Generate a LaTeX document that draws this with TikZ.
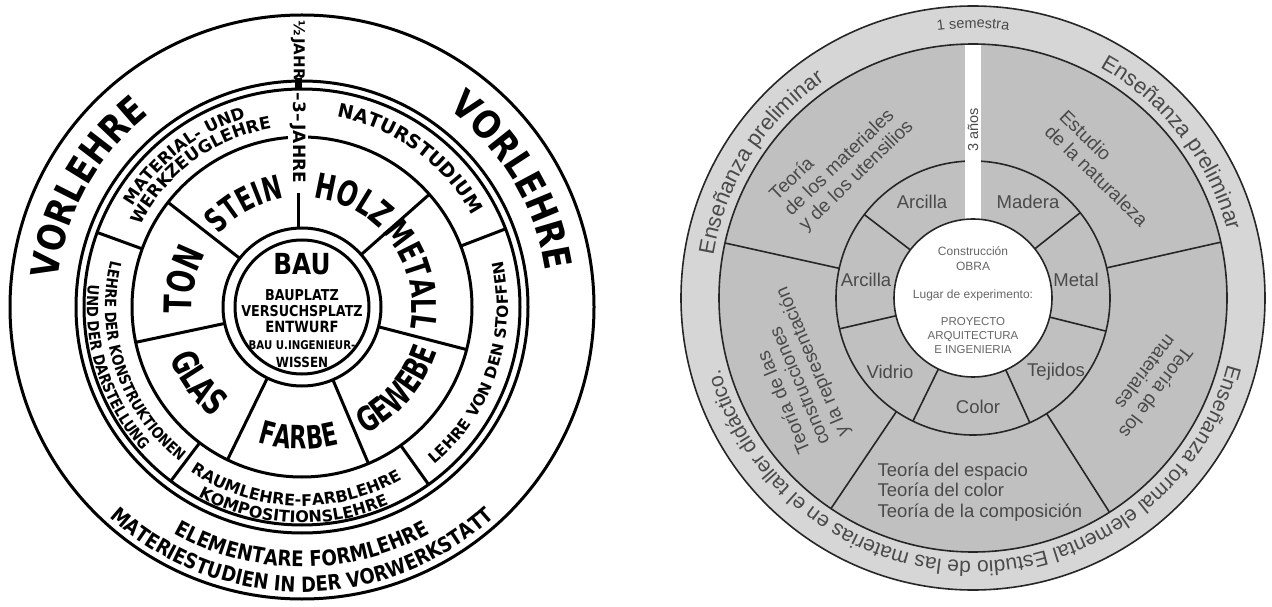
\documentclass[tikz,border=0pt]{standalone}
\usepackage{fontspec}
\setmainfont{Liberation Sans}
\newfontfamily\bhA{DejaVu Sans}[FakeStretch=0.7]
\newfontfamily\bhB{DejaVu Sans}[FakeStretch=0.85]
\newfontfamily\bhC{DejaVu Sans}
\usetikzlibrary{decorations.text}
\definecolor{band}{HTML}{D6D6D6}
\definecolor{ringc}{HTML}{C0C0C0}
\definecolor{txt}{HTML}{4A4A4A}
\newcommand\curvetext[6]{\path[decorate,decoration={text along path,text align=center,text={|#5|#6}}] ([shift={(#3:#2)}]#1) arc[start angle=#3,end angle=#4,radius=#2];}
\begin{document}
\begin{tikzpicture}[x=1pt,y=1pt,
  bline/.style={line width=3pt, black},
  rline/.style={line width=1.6pt, black!85},
  blab/.style={inner sep=0pt, text=black},
  slab/.style={inner sep=0pt, text=txt, align=left}]
\useasboundingbox (0,0) rectangle (1272,606);
\coordinate (L) at (302,299);
\coordinate (R) at (973,308);

% ================= LEFT =================
\draw[bline] (L) circle[radius=292];
\draw[bline] (L) circle[radius=226];
\draw[bline] (L) circle[radius=218];
\draw[bline] (L) circle[radius=170];
\draw[bline] (L) circle[radius=79];
\draw[bline] (L) circle[radius=67];
\foreach \a in {142,41.5,-14.5,-67,-116,192}
  \draw[bline] ([shift={(\a:79)}]L) -- ([shift={(\a:170)}]L);
\foreach \a in {21,-54.5,-127,160}
  \draw[bline] ([shift={(\a:170)}]L) -- ([shift={(\a:218)}]L);
\coordinate (vtop) at (298,413);
\coordinate (vbot) at (298,378);
\draw[bline] (vtop) -- (vbot);
\node[blab, rotate=-90, fill=white, inner sep=2pt, font=\bhC\bfseries\fontsize{17}{17}\selectfont] (three) at (298,468) {–3–\,JAHRE};
\node[blab, rotate=-90, font=\bhC\bfseries\fontsize{15}{15}\selectfont] (half) at (298,556) {½\,JAHR};
\fill[black] (294.5,516) rectangle (301.5,528);

\curvetext{L}{246}{181}{121}{\bhB\bfseries\fontsize{38}{38}\selectfont}{VORLEHRE}
\curvetext{L}{246}{61}{1}{\bhB\bfseries\fontsize{38}{38}\selectfont}{VORLEHRE}
\curvetext{L}{285}{-150}{-30}{\bhB\bfseries\fontsize{21}{21}\selectfont}{MATERIESTUDIEN IN DER VORWERKSTATT}
\curvetext{L}{260}{-140}{-40}{\bhB\bfseries\fontsize{21.5}{21.5}\selectfont}{ELEMENTARE FORMLEHRE}
\curvetext{L}{193}{89}{19}{\bhC\bfseries\fontsize{19}{19}\selectfont}{NATURSTUDIUM}
\curvetext{L}{197}{163}{93}{\bhC\bfseries\fontsize{16.5}{16.5}\selectfont}{MATERIAL- UND}
\curvetext{L}{181}{161.5}{91.5}{\bhC\bfseries\fontsize{17}{17}\selectfont}{WERKZEUGLEHRE}
\curvetext{L}{206}{-58.5}{21.5}{\bhC\bfseries\fontsize{15.5}{15.5}\selectfont}{LEHRE VON DEN STOFFEN}
\curvetext{L}{197}{159}{239}{\bhB\bfseries\fontsize{15.5}{15.5}\selectfont}{LEHRE DER KONSTRUKTIONEN}
\curvetext{L}{215}{158}{238}{\bhB\bfseries\fontsize{15.5}{15.5}\selectfont}{UND DER DARSTELLUNG}
\curvetext{L}{199}{-132}{-52}{\bhC\bfseries\fontsize{16}{16}\selectfont}{RAUMLEHRE-FARBLEHRE}
\curvetext{L}{216}{-132.5}{-52.5}{\bhC\bfseries\fontsize{16}{16}\selectfont}{KOMPOSITIONSLEHRE}
\curvetext{L}{110}{159}{79}{\bhA\bfseries\fontsize{33}{33}\selectfont}{STEIN}
\curvetext{L}{110}{104.5}{24.5}{\bhA\bfseries\fontsize{35}{35}\selectfont}{HOLZ}
\curvetext{L}{110}{56}{-24}{\bhA\bfseries\fontsize{34}{34}\selectfont}{METALL}
\curvetext{L}{142}{-81}{-1}{\bhA\bfseries\fontsize{34}{34}\selectfont}{GEWEBE}
\curvetext{L}{142}{-131.5}{-51.5}{\bhA\bfseries\fontsize{32}{32}\selectfont}{FARBE}
\curvetext{L}{142}{176}{256}{\bhA\bfseries\fontsize{36}{36}\selectfont}{GLAS}
\curvetext{L}{110}{207}{127}{\bhA\bfseries\fontsize{38}{38}\selectfont}{TON}

\node[blab, font=\bhB\bfseries\fontsize{29}{29}\selectfont] (bau) at (302,342) {BAU};
\node[blab, font=\bhB\bfseries\fontsize{15}{15}\selectfont] (bauplatz) at (302,311) {BAUPLATZ};
\node[blab, font=\bhB\bfseries\fontsize{15}{15}\selectfont] (versuch) at (302,295) {VERSUCHSPLATZ};
\node[blab, font=\bhB\bfseries\fontsize{15.5}{15.5}\selectfont] (entwurf) at (302,279) {ENTWURF};
\node[blab, font=\bhB\bfseries\fontsize{12}{12}\selectfont] (ingen) at (302,261) {BAU U.INGENIEUR-};
\node[blab, font=\bhB\bfseries\fontsize{14}{14}\selectfont] (wissen) at (302,244) {WISSEN};

% ================= RIGHT =================
\fill[band] (R) circle[radius=292];
\fill[ringc] (R) circle[radius=254];
\draw[rline] (R) circle[radius=137];
\foreach \a in {142.5,38.5,-14,-65.5,-116,193}
  \draw[rline] ([shift={(\a:79)}]R) -- ([shift={(\a:137)}]R);
\foreach \a in {167.5,12.7,-57.5,-124}
  \draw[rline] ([shift={(\a:137)}]R) -- ([shift={(\a:254)}]R);
\fill[white] (965,562) rectangle (981,380);
\draw[rline] (R) circle[radius=292];
\draw[rline] (R) circle[radius=254];
\filldraw[fill=white, draw=black!85, line width=1.6pt] (R) circle[radius=79];

\curvetext{R}{263}{187.5}{107.5}{\color{txt}\fontsize{22}{22}\selectfont}{Enseñanza preliminar}
\curvetext{R}{263}{78}{-2}{\color{txt}\fontsize{22}{22}\selectfont}{Enseñanza preliminar}
\curvetext{R}{270}{110}{70}{\color{txt}\fontsize{14.5}{14.5}\selectfont}{1 semestra}
\curvetext{R}{263}{-4.5}{-174.5}{\color{txt}\fontsize{21}{21}\selectfont}{Enseñanza formal elemental Estudio de las materias en el taller didáctico.}

\node[slab, rotate=90, font=\fontsize{14.5}{14.5}\selectfont] (anos) at (973,476) {3 años};

\node[slab, rotate=44, font=\fontsize{19}{21}\selectfont] (tmat) at (842,445) {Teoría\\de los materiales\\y de los utensilios};
\node[slab, rotate=-44.4, font=\fontsize{19}{21}\selectfont] (nat) at (1104,438) {Estudio\\de la naturaleza};
\node[slab, rotate=233, font=\fontsize{19}{21}\selectfont] (tmat2) at (1148,219) {Teoría de los\\materiales};
\node[slab, rotate=113, font=\fontsize{19}{21}\selectfont] (tcon) at (794,236) {Teoría de las\\construcciones\\y la representación};
\node[slab, font=\fontsize{18.5}{20.5}\selectfont] (tesp) at (980,114) {Teoría del espacio\\Teoría del color\\Teoría de la composición};

\node[slab, font=\fontsize{18.5}{20}\selectfont] (arc1) at (922,404) {Arcilla};
\node[slab, font=\fontsize{18.5}{20}\selectfont] (mad) at (1028,404) {Madera};
\node[slab, font=\fontsize{18.5}{20}\selectfont] (met) at (1076,326) {Metal};
\node[slab, font=\fontsize{18.5}{20}\selectfont] (arc2) at (866,326) {Arcilla};
\node[slab, font=\fontsize{18.5}{20}\selectfont] (vid) at (890,234) {Vidrio};
\node[slab, font=\fontsize{18.5}{20}\selectfont] (tej) at (1056,234) {Tejidos};
\node[slab, font=\fontsize{18.5}{20}\selectfont] (col) at (978,199) {Color};

\node[slab, text=black!60, align=center, font=\fontsize{12}{15}\selectfont] (cons) at (973,347) {Construcción\\OBRA};
\node[slab, text=black!60, font=\fontsize{12}{12}\selectfont] (lug) at (973,311) {Lugar de experimento:};
\node[slab, text=black!60, align=center, font=\fontsize{11.5}{14}\selectfont] (proy) at (973,270) {PROYECTO\\ARQUITECTURA\\E INGENIERIA};
\end{tikzpicture}
\end{document}
